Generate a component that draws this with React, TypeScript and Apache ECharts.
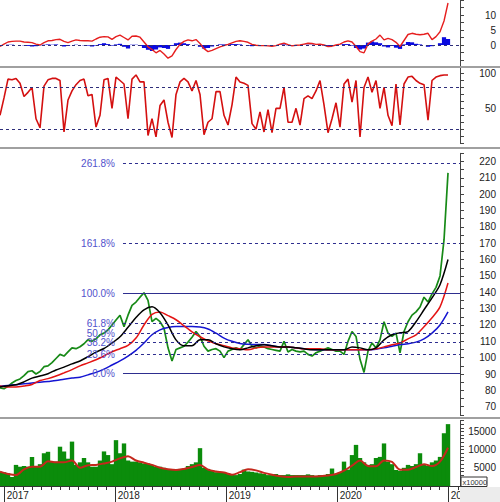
import React, { useEffect, useRef } from "react";
import * as echarts from "echarts";

// time axis in fractional years
const AXIS_START = 2016.958;
const AXIS_END = 2021.102;
const DATA_END = 2020.994;
const FIB_FROM = 2018.066;

const yearTicks = [2017, 2018, 2019, 2020, 2021];

const price = [
  81.6, 81, 82.5, 84.5, 86, 87, 89, 91.5, 92, 90,
  91.5, 94.5, 95, 97, 99.5, 102, 101, 103.5, 106, 105.5,
  106.7, 108.5, 111, 110, 111.5, 114, 115, 117, 120, 123,
  126, 119, 126, 132, 134, 137, 139.7, 135, 122, 124,
  122, 118, 106, 98, 105, 106, 107, 109.5, 112.5, 116,
  113, 107, 104, 105, 105.5, 104, 100, 104, 105, 106,
  105, 108, 111, 107, 106, 107, 106.5, 105.5, 105, 104.5,
  104, 110, 103.5, 105, 104, 103.5, 104, 102, 101, 103,
  104, 105, 106, 105, 104, 104, 102, 110, 116, 113,
  99, 91, 104, 109, 106, 111, 122, 115, 113, 115,
  103, 116, 122, 126, 128, 131, 137, 134, 139, 143,
  150, 172, 213,
];

const maBlack = [
  82.1, 82.8, 83.4, 85.2, 87.5, 88.8, 90.2, 92.5, 94.2, 96.2,
  98, 100.6, 103.4, 105.6, 109, 112.8, 118.6, 124.6, 129.3, 131.1,
  127.5, 120, 110.9, 107.3, 107.3, 110.9, 110.9, 108.5, 106.6, 105.4,
  104.8, 106, 107.3, 107.9, 107.3, 106.6, 106.6, 106, 105.4, 104.8,
  104.8, 104.8, 104.8, 104.8, 106.6, 106, 104.8, 106, 110.9, 114,
  115.2, 116, 122, 129.3, 136.6, 144.6, 160,
];

const maRed = [
  82.7, 82.1, 82.1, 82.7, 83.6, 86, 87.2, 88.8, 90.7, 92.7,
  95, 96.8, 98.7, 101, 103.6, 105.5, 107.5, 112, 120, 126.5,
  128, 125.7, 123.2, 119.5, 115.8, 112.8, 110.3, 108.5, 107.3, 106,
  105.4, 104.8, 106, 106.6, 106.6, 106.6, 106.6, 106, 105.4, 105.4,
  105.4, 104.8, 104.8, 104.8, 104.8, 104.8, 104.8, 105.4, 106.6, 107.9,
  109, 111.5, 114, 118.9, 124.4, 131.1, 145.7,
];

const maBlue = [
  82.5, 83, 83.5, 84, 84.5, 85, 85.5, 86, 86.8, 87.5,
  88, 89.5, 91, 93, 95.5, 98, 101, 104.5, 109, 114,
  117, 118.5, 119, 119, 119, 118.7, 117.5, 115, 112, 110,
  108.7, 108.2, 108, 108, 107.3, 106.6, 106.5, 106, 105.5, 105,
  104.8, 104.8, 104.8, 104.8, 104.8, 104.8, 104.8, 105.2, 106, 107,
  108, 108.5, 109.5, 111.5, 115, 120, 128,
];

const macd = [
  -0.5, 0.3, 1.0, 1.2, 1.3, 1.3, 1.0, 0.9, 0.8, 0.3,
  0, 0.8, 1.4, 1.5, 1.8, 1.9, 1.2, 0.8, 1.3, 1.7,
  1.5, 1.4, 1.4, 1.3, 2.0, 2.6, 2.8, 2.7, 1.9, 2.8,
  3.3, 2.5, 1.7, 2.9, 3.0, 2.6, 1.0, -0.6, -1.5, -2.6,
  -1.8, -3.0, -4.4, -3.6, -1.5, 0.2, 1.2, 1.7, 1.4, 1.8,
  0.5, -1.2, -2.2, -1.8, -1.2, -0.6, -0.2, 0.2, 0.7, 1.2,
  1.4, 1.2, 0.9, 0.2, -0.1, -0.2, -0.2, -0.3, -0.4, -0.2,
  0.3, 0.6, 0.1, -0.3, -0.1, 0, 0.3, 0.6, 0.5, 0.2,
  0.3, 0, -0.5, -0.4, 0, 0.3, 1.0, 1.4, 1.0, -0.5,
  -2.2, -2.6, 0.3, 1.3, 2.0, 3.3, 1.7, 2.2, 1.8, 0.9,
  -0.5, 1.5, 3.5, 3.9, 3.6, 3.4, 3.6, 3.9, 1.8, 2.8,
  4.4, 8, 14,
];

const macdHist = [
  -0.1, 0, 0.1, 0.1, 0, 0, -0.1, -0.3, -0.5, -0.4,
  -0.1, 0.1, 0.2, 0.1, 0.2, 0, -0.5, -0.3, 0, 0.1,
  0, -0.1, -0.2, -0.5, -0.2, 0.3, 0.6, 0.3, -0.2, 0.2,
  0.4, -0.6, -1.2, 0.1, 0.1, -0.3, -1.0, -1.6, -2.0, -1.5,
  -0.8, -1.0, -1.3, -0.3, 0.6, 0.8, 0.6, 0.3, 0, 0.1,
  -0.6, -1.2, -1.0, -0.5, 0, 0.2, 0.2, 0.2, 0.3, 0.3,
  0.2, 0, -0.2, -0.4, -0.3, -0.2, -0.1, -0.1, -0.1, 0,
  0.2, 0.2, -0.1, -0.2, -0.1, 0, 0.1, 0.1, 0.1, 0,
  0, -0.2, -0.4, -0.3, 0, 0.1, 0.3, 0.3, -0.2, -1.0,
  -1.5, -1.2, 0.8, 1.2, 0.9, 0.6, -0.5, -0.8, -0.3, -0.9,
  -1.3, 0.2, 1.0, 0.9, 0.4, 0.2, 0, -0.6, -0.4, 0,
  0.6, 2.6, 2.0,
];

const stoch = [
  40, 65, 92, 91, 93, 86, 67, 73, 80, 35,
  22, 82, 91, 93, 93, 90, 16, 62, 75, 84,
  90, 92, 68, 70, 23, 40, 91, 93, 50, 95,
  90, 85, 35, 92, 98, 88, 88, 11, 35, 9,
  54, 62, 30, 8, 70, 88, 93, 88, 75, 90,
  70, 12, 30, 35, 74, 74, 40, 26, 55, 95,
  88, 86, 83, 28, 20, 45, 16, 48, 15, 50,
  50, 80, 30, 30, 50, 26, 64, 68, 64, 75,
  90, 55, 15, 35, 58, 23, 85, 92, 59, 90,
  9, 80, 95, 73, 90, 50, 80, 40, 25, 85,
  26, 85, 95, 96, 90, 86, 84, 33, 90, 95,
  97, 98, 98,
];

const volume = [
  3900, 3800, 3500, 2500, 5800, 5300, 5500, 5300, 8000, 5500,
  6000, 9000, 9400, 6700, 6700, 10800, 9500, 7500, 12200, 5800,
  6500, 7700, 6500, 5300, 5300, 7000, 9500, 8500, 6000, 12600,
  9000, 11700, 7000, 6700, 6700, 6500, 6200, 6200, 5800, 5300,
  5300, 5000, 4400, 4400, 4400, 4700, 4700, 5500, 6000, 6500,
  10400, 5000, 4700, 4200, 3800, 3800, 3800, 3500, 3300, 3000,
  3300, 4500, 4000, 3900, 3700, 3500, 3300, 3000, 3000, 3300,
  3000, 3000, 3200, 3000, 3000, 3000, 3000, 3200, 3000, 2800,
  3000, 3000, 3300, 4800, 3300, 3800, 6700, 4500, 8500, 11300,
  7700, 6500, 5800, 6000, 7700, 8000, 11700, 6700, 6000, 4400,
  4200, 5000, 5800, 5500, 6000, 9000, 6000, 5500, 6500, 7000,
  8000, 14500, 17000,
];

const volumeMa = [
  3900, 3300, 3000, 4600, 5300, 5300, 6800, 6500, 6500, 7000,
  5000, 5700, 5800, 6200, 6700, 7600, 8200, 7000, 6400, 5800,
  5000, 4600, 4400, 4700, 5200, 5800, 4500, 4000, 3700, 3100,
  3800, 4600, 4300, 3600, 3100, 2700, 2500, 2600, 2600, 2600,
  2700, 2900, 3300, 4200, 5600, 7000, 5500, 5400, 7000, 6600,
  4500, 4500, 5200, 6000, 5500, 6700, 10500,
];

const fibLow = 90.5;
const fibHigh = 139.5;
const fibRatios = [0, 0.236, 0.382, 0.5, 0.618, 1, 1.618, 2.618];
const fibLabels = ["0.0%", "23.6%", "38.2%", "50.0%", "61.8%", "100.0%", "161.8%", "261.8%"];
const stochBands = [20, 80];

const macdLabels = [0, 5, 10];
const stochLabels = [50, 100];
const priceLabels = [70, 80, 90, 100, 110, 120, 130, 140, 150, 160, 170, 180, 190, 200, 210, 220];
const volumeLabels = [5000, 10000, 15000];

function spread(vals: number[]) {
  const step = (DATA_END - AXIS_START) / (vals.length - 1);
  return vals.map((v, i) => [AXIS_START + i * step, v]);
}

const monthTicks: number[] = [];
for (let y = 2016; y <= 2021; y++) {
  for (let m = 0; m < 12; m++) {
    const v = y + m / 12;
    if (v >= AXIS_START && v <= AXIS_END) monthTicks.push(v);
  }
}

const FONT = "'Liberation Sans', Arial, sans-serif";
const AXIS_COLOR = "#444";

function yAxis(gridIndex: number, min: number, max: number, interval: number, labels: number[]) {
  return {
    type: "value",
    gridIndex,
    position: "right",
    min,
    max,
    interval,
    axisLine: { show: true, lineStyle: { color: AXIS_COLOR, width: 1 } },
    axisTick: { show: true, length: 4, lineStyle: { color: AXIS_COLOR } },
    splitLine: { show: false },
    axisLabel: {
      show: true,
      align: "right",
      margin: 36,
      fontSize: 10,
      color: "#222",
      fontFamily: FONT,
      showMinLabel: true,
      showMaxLabel: true,
      formatter: (v: number) => {
        const r = Math.round(v * 1000) / 1000;
        return labels.indexOf(r) >= 0 ? String(r) : "";
      },
    },
  };
}

function hiddenX(gridIndex: number) {
  return {
    type: "value",
    gridIndex,
    min: AXIS_START,
    max: AXIS_END,
    show: false,
  };
}

export default function App() {
  const ref = useRef<HTMLDivElement>(null);

  useEffect(() => {
    if (!ref.current) return;
    const chart = echarts.init(ref.current, undefined, { renderer: "svg" });

    const grids = [
      { left: 0, right: 40, top: 0, height: 67.5 },
      { left: 0, right: 40, top: 66.6, height: 76.5 },
      { left: 0, right: 40, top: 153.3, height: 261.6 },
      { left: 0, right: 40, top: 420.5, height: 65.5 },
      { left: 0, right: 40, top: 420.5, height: 65.5 },
    ];

    const option: any = {
      animation: false,
      backgroundColor: "#ffffff",
      textStyle: { fontFamily: FONT },
      grid: grids,
      xAxis: [
        hiddenX(0),
        hiddenX(1),
        hiddenX(2),
        {
          type: "value",
          gridIndex: 3,
          min: AXIS_START,
          max: AXIS_END,
          axisLine: { show: false },
          splitLine: { show: false },
          axisTick: {
            show: true,
            customValues: yearTicks,
            length: 16,
            lineStyle: { color: "#333" },
          },
          axisLabel: {
            show: true,
            customValues: yearTicks,
            align: "left",
            margin: 4,
            padding: [0, 0, 0, 2],
            fontSize: 10,
            color: "#222",
            fontFamily: FONT,
            formatter: (v: number) => String(Math.round(v)),
          },
        },
        {
          type: "value",
          gridIndex: 4,
          min: AXIS_START,
          max: AXIS_END,
          axisLine: { show: true, lineStyle: { color: "#333" } },
          splitLine: { show: false },
          axisTick: {
            show: true,
            customValues: monthTicks,
            length: 4,
            lineStyle: { color: "#333" },
          },
          axisLabel: { show: false },
        },
      ],
      yAxis: [
        yAxis(0, -7.5, 15, 2.5, macdLabels),
        yAxis(1, 0, 110, 10, stochLabels),
        yAxis(2, 65, 225, 5, priceLabels),
        yAxis(3, 0, 18000, 1000, volumeLabels),
        { type: "value", gridIndex: 4, min: 0, max: 1, show: false },
      ],
      series: [
        {
          type: "line",
          xAxisIndex: 2,
          yAxisIndex: 2,
          data: [],
          silent: true,
          markLine: {
            silent: true,
            symbol: ["none", "none"],
            animation: false,
            label: {
              show: true,
              position: "start",
              distance: 8,
              color: "#5252cc",
              fontSize: 10,
              fontFamily: FONT,
            },
            data: fibRatios.map((r, i) => {
              const level = fibLow + r * (fibHigh - fibLow);
              const solid = r === 0 || r === 1;
              return [
                {
                  coord: [FIB_FROM, level],
                  lineStyle: { type: solid ? "solid" : [3, 3], color: "#2e2e8f", width: 1 },
                  label: { formatter: fibLabels[i] },
                },
                { coord: [AXIS_END, level] },
              ];
            }),
          },
        },
        {
          name: "price",
          type: "line",
          xAxisIndex: 2,
          yAxisIndex: 2,
          data: spread(price),
          showSymbol: false,
          lineStyle: { color: "#178a17", width: 1.7 },
        },
        {
          name: "ma-blue",
          type: "line",
          xAxisIndex: 2,
          yAxisIndex: 2,
          data: spread(maBlue),
          showSymbol: false,
          smooth: 0.3,
          lineStyle: { color: "#1414d2", width: 1.5 },
        },
        {
          name: "ma-red",
          type: "line",
          xAxisIndex: 2,
          yAxisIndex: 2,
          data: spread(maRed),
          showSymbol: false,
          smooth: 0.3,
          lineStyle: { color: "#e41414", width: 1.5 },
        },
        {
          name: "ma-black",
          type: "line",
          xAxisIndex: 2,
          yAxisIndex: 2,
          data: spread(maBlack),
          showSymbol: false,
          smooth: 0.3,
          lineStyle: { color: "#000000", width: 1.5 },
        },
        {
          name: "macd-hist",
          type: "bar",
          xAxisIndex: 0,
          yAxisIndex: 0,
          data: spread(macdHist),
          barWidth: 4.2,
          itemStyle: { color: "#0a0ae0" },
        },
        {
          name: "macd",
          type: "line",
          xAxisIndex: 0,
          yAxisIndex: 0,
          data: spread(macd),
          showSymbol: false,
          lineStyle: { color: "#e61e1e", width: 1.4 },
          markLine: {
            silent: true,
            symbol: ["none", "none"],
            label: { show: false },
            lineStyle: { type: [3, 3], color: "#2e2e7a", width: 1 },
            data: [{ yAxis: 0 }],
          },
        },
        {
          name: "stoch",
          type: "line",
          xAxisIndex: 1,
          yAxisIndex: 1,
          data: spread(stoch),
          showSymbol: false,
          lineStyle: { color: "#d41010", width: 1.6 },
          markLine: {
            silent: true,
            symbol: ["none", "none"],
            label: { show: false },
            lineStyle: { type: [3, 3], color: "#2e2e7a", width: 1 },
            data: stochBands.map((b) => ({ yAxis: b })),
          },
        },
        {
          name: "volume",
          type: "bar",
          xAxisIndex: 3,
          yAxisIndex: 3,
          data: spread(volume),
          barWidth: 4.4,
          itemStyle: { color: "#0b8c0b" },
        },
        {
          name: "volume-ma",
          type: "line",
          xAxisIndex: 3,
          yAxisIndex: 3,
          data: spread(volumeMa),
          showSymbol: false,
          smooth: 0.3,
          lineStyle: { color: "#c4281c", width: 2 },
        },
      ],
      graphic: [
        { type: "rect", shape: { x: 0, y: 66, width: 500, height: 2 }, style: { fill: "#a0a0a0" }, z: 100 },
        { type: "rect", shape: { x: 0, y: 147, width: 500, height: 2 }, style: { fill: "#a0a0a0" }, z: 100 },
        { type: "rect", shape: { x: 0, y: 417, width: 500, height: 2 }, style: { fill: "#a0a0a0" }, z: 100 },
        { type: "rect", shape: { x: 460, y: 487, width: 40, height: 15 }, style: { fill: "#ececec" }, z: 100 },
        {
          type: "rect",
          shape: { x: 461, y: 477, width: 26, height: 9.5 },
          style: { fill: "#ffffff", stroke: "#333", lineWidth: 1 },
          z: 101,
        },
        {
          type: "text",
          x: 462.5,
          y: 482,
          style: { text: "x10000", fontSize: 7.5, fill: "#333", fontFamily: FONT, verticalAlign: "middle" },
          z: 102,
        },
      ],
    };

    chart.setOption(option);
    return () => chart.dispose();
  }, []);

  return (
    <div
      ref={ref}
      style={{ position: "absolute", left: 0, top: 0, width: 500, height: 502, background: "#fff" }}
    />
  );
}
